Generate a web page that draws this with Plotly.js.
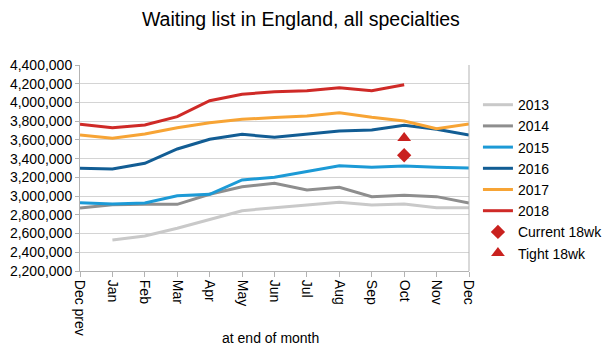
<!DOCTYPE html>
<html>
<head>
<meta charset="utf-8">
<script src="https://cdn.plot.ly/plotly-3.0.1.min.js"></script>
<style>html,body{margin:0;padding:0;background:#fff;}#chart{width:614px;height:357px;}</style>
</head>
<body>
<div id="chart"></div>
<script>
const months = ["Dec prev","Jan","Feb","Mar","Apr","May","Jun","Jul","Aug","Sep","Oct","Nov","Dec"];
const y2013 = [null,2531000,2574000,2656000,2752000,2844000,2876000,2905000,2934000,2905000,2915000,2876000,2876000];
const y2014 = [2873000,2908000,2912000,2912000,3019000,3100000,3136000,3065000,3094000,2994000,3008000,2994000,2926000];
const y2015 = [2930000,2915000,2926000,3004000,3019000,3172000,3201000,3260000,3325000,3307000,3321000,3307000,3300000];
const y2016 = [3297000,3289000,3350000,3503000,3607000,3660000,3628000,3663000,3695000,3706000,3756000,3713000,3652000];
const y2017 = [3652000,3617000,3663000,3730000,3784000,3820000,3838000,3855000,3891000,3841000,3802000,3720000,3770000];
const y2018 = [3767000,3730000,3759000,3848000,4019000,4087000,4115000,4126000,4158000,4126000,4190000,null,null];
const currentMonth = ["Oct"];
const current18wk = [3436000];
const tight18wk = [3620000];
const yTickVals = [2200000,2400000,2600000,2800000,3000000,3200000,3400000,3600000,3800000,4000000,4200000,4400000];
const yTickText = ["2,200,000","2,400,000","2,600,000","2,800,000","3,000,000","3,200,000","3,400,000","3,600,000","3,800,000","4,000,000","4,200,000","4,400,000"];

const series = [
  {name:"2013", y:y2013, color:"#c9c9c9"},
  {name:"2014", y:y2014, color:"#8e8e8e"},
  {name:"2015", y:y2015, color:"#1c9ad6"},
  {name:"2016", y:y2016, color:"#125d94"},
  {name:"2017", y:y2017, color:"#f7a435"},
  {name:"2018", y:y2018, color:"#cf2a27"}
];
const traces = series.map(s => ({
  type:"scatter", mode:"lines", name:s.name, x:months, y:s.y,
  line:{color:s.color, width:3}, connectgaps:false
}));
traces.push({type:"scatter", mode:"markers", name:"Current 18wk", x:currentMonth, y:current18wk,
  marker:{symbol:"diamond", size:11, color:"#c9211e"}});
traces.push({type:"scatter", mode:"markers", name:"Tight 18wk", x:currentMonth, y:tight18wk,
  marker:{symbol:"triangle-up", size:12, color:"#c9211e"}});

const font = "Liberation Sans, Arial, Helvetica, sans-serif";
const layout = {
  width:614, height:357,
  margin:{l:80, r:145, t:65, b:86, autoexpand:false},
  paper_bgcolor:"#fff", plot_bgcolor:"#fff",
  font:{family:font, size:14, color:"#000"},
  title:{text:"Waiting list in England, all specialties", font:{family:font, size:19.5, color:"#000"},
    x:0.49, xanchor:"center", y:0.947, yanchor:"middle"},
  showlegend:true,
  legend:{x:1.023, xanchor:"left", y:0.883, yanchor:"top", font:{family:font, size:14}, tracegroupgap:0,
    bgcolor:"rgba(0,0,0,0)"},
  xaxis:{type:"category", categoryorder:"array", categoryarray:months, range:[0,12], automargin:false,
    tickangle:90, showgrid:false, showline:true, linecolor:"#b3b3b3", linewidth:1,
    ticks:"outside", ticklen:5, tickcolor:"#b3b3b3", mirror:false, zeroline:false,
    tickfont:{family:font, size:14}},
  yaxis:{range:[2200000,4400000], tickvals:yTickVals, ticktext:yTickText, automargin:false,
    showgrid:true, gridcolor:"#d4d4d4", gridwidth:1, showline:true, linecolor:"#b3b3b3",
    ticks:"outside", ticklen:4, tickcolor:"#b3b3b3", zeroline:false, tickfont:{family:font, size:14}},
  annotations:[{text:"at end of month", xref:"paper", yref:"paper", x:0.49, y:0, xanchor:"center", yanchor:"middle",
    yshift:-67, showarrow:false, font:{family:font, size:14, color:"#000"}}]
};
layout.shapes = [{type:"line", xref:"paper", yref:"paper", x0:1, x1:1, y0:0, y1:1, line:{color:"#b3b3b3", width:1}}];
Plotly.newPlot("chart", traces, layout, {displayModeBar:false, staticPlot:true});
</script>
</body>
</html>
